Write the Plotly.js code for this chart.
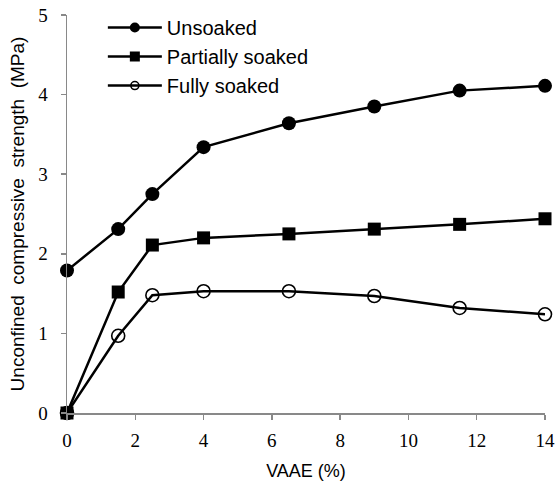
<!DOCTYPE html>
<html>
<head>
<meta charset="utf-8">
<script src="https://cdn.plot.ly/plotly-3.0.1.min.js"></script>
<style>html,body{margin:0;padding:0;background:#fff}</style>
</head>
<body>
<div id="chart" style="width:555px;height:483px"></div>
<script>
const vaae = [0, 1.5, 2.5, 4, 6.5, 9, 11.5, 14];
const unsoaked = [1.79, 2.31, 2.75, 3.34, 3.64, 3.85, 4.05, 4.11];
const partiallySoaked = [0, 1.52, 2.11, 2.20, 2.25, 2.31, 2.37, 2.44];
const fullySoaked = [0, 0.97, 1.48, 1.53, 1.53, 1.47, 1.32, 1.24];
const seriesNames = ["Unsoaked", "Partially soaked", "Fully soaked"];
const xTicks = [0, 2, 4, 6, 8, 10, 12, 14];
const yTicks = [0, 1, 2, 3, 4, 5];

const lineStyle = {color: "#000", width: 2.5};
const markers = [
  {symbol: "circle", color: "#000"},
  {symbol: "square", color: "#000"},
  {symbol: "circle-open", color: "#000", line: {width: 1.6, color: "#000"}}
];
const plotSizes = [14, 13, 13];
const legendSizes = [10, 10, 8];
const seriesData = [unsoaked, partiallySoaked, fullySoaked];

const traces = [];
seriesData.forEach((ys, i) => {
  traces.push({x: vaae, y: ys, name: seriesNames[i], mode: "lines+markers", line: lineStyle,
    marker: Object.assign({}, markers[i], {size: plotSizes[i]}), cliponaxis: false, showlegend: false});
});
seriesData.forEach((ys, i) => {
  traces.push({x: [null], y: [null], name: seriesNames[i], mode: "lines+markers", line: lineStyle,
    marker: Object.assign({}, markers[i], {size: legendSizes[i]}), showlegend: true});
});

const layout = {
  width: 555, height: 483,
  margin: {l: 67, r: 10, t: 15, b: 70, autoexpand: false},
  paper_bgcolor: "#fff", plot_bgcolor: "#fff",
  showlegend: true,
  legend: {x: 0.075, y: 1.0175, xanchor: "left", yanchor: "top", bgcolor: "rgba(0,0,0,0)",
    font: {family: "Liberation Sans, Arial", size: 20, color: "#000"}, tracegroupgap: 0, itemwidth: 54},
  xaxis: {range: [0, 14], tickvals: xTicks, ticktext: xTicks.map(String),
    showgrid: false, zeroline: false, showline: true, linecolor: "#898989", linewidth: 1.5,
    ticks: "outside", ticklen: 5, tickcolor: "#898989", tickwidth: 1.5, ticklabelstandoff: 5,
    tickfont: {family: "Liberation Serif, Times New Roman", size: 19, color: "#000"},
    title: {text: "VAAE (%)", font: {family: "Liberation Sans, Arial", size: 18, color: "#000"}, standoff: 14}},
  yaxis: {range: [0, 5], tickvals: yTicks, ticktext: yTicks.map(String),
    showgrid: false, zeroline: false, showline: true, linecolor: "#898989", linewidth: 1.5,
    ticks: "outside", ticklen: 5, tickcolor: "#898989", tickwidth: 1.5, ticklabelstandoff: 9,
    tickfont: {family: "Liberation Serif, Times New Roman", size: 19, color: "#000"},
    title: {text: "Unconfined  compressive  strength  (MPa)", font: {family: "Liberation Sans, Arial", size: 19, color: "#000"}, standoff: 8}}
};

Plotly.newPlot("chart", traces, layout, {staticPlot: true, displayModeBar: false});
</script>
</body>
</html>
